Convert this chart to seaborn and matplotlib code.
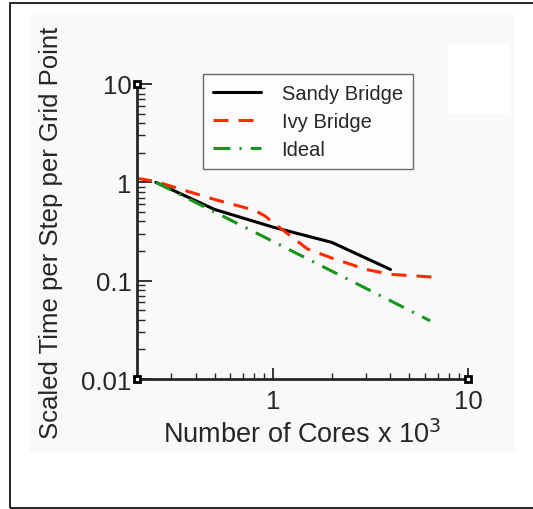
import pandas as pd
import seaborn as sns
import matplotlib.pyplot as plt
from matplotlib.patches import Rectangle
from matplotlib.ticker import LogLocator, NullFormatter, FixedLocator, FixedFormatter

# Data (cores in thousands, scaled time)
sandy_cores = [0.25, 0.5, 1.0, 2.0, 4.0]
sandy_time = [1.0, 0.53, 0.35, 0.245, 0.13]

ivy_cores = [0.2, 0.25, 0.35, 0.5, 0.7, 0.8, 0.9, 1.0, 1.5, 2.0, 3.0, 4.0, 6.5]
ivy_time = [1.1, 1.02, 0.83, 0.67, 0.56, 0.52, 0.46, 0.39, 0.21, 0.17, 0.13, 0.116, 0.109]

ideal_cores = [0.25, 0.5, 1.0, 2.0, 4.0, 6.4]
ideal_time = [1.0, 0.5, 0.25, 0.125, 0.0625, 0.039]

y_ticks = [0.01, 0.1, 1, 10]
y_labels = ['0.01', '0.1', '1', '10']
x_ticks = [1, 10]
x_labels = ['1', '10']

sns.set_style('ticks')
plt.rcParams['font.family'] = ['Liberation Sans', 'DejaVu Sans']

fig = plt.figure(figsize=(5.33, 5.10), dpi=100)

# light panel and outer frame like the original export
fig.patches.append(Rectangle((30 / 533, 1 - 453 / 510), 485 / 533, 437 / 510,
                             transform=fig.transFigure, facecolor='#f9f9f9',
                             edgecolor='none', zorder=-2))
fig.patches.append(Rectangle((448 / 533, 1 - 115 / 510), 62 / 533, 70 / 510,
                             transform=fig.transFigure, facecolor='white',
                             edgecolor='none', zorder=-2))
fig.patches.append(Rectangle((10 / 533, 1 - 509 / 510), 530 / 533, 505 / 510,
                             transform=fig.transFigure, facecolor='none',
                             edgecolor='black', lw=1.2, zorder=-2))

ax = fig.add_axes([137 / 533, 1 - 380 / 510, 331 / 533, 295 / 510])
ax.set_zorder(2)
ax.set_facecolor('none')

sns.lineplot(x=sandy_cores, y=sandy_time, ax=ax, color='black', lw=2.2,
             label='Sandy Bridge', estimator=None, sort=False)
sns.lineplot(x=ivy_cores, y=ivy_time, ax=ax, color='#ff2a00', lw=2.2,
             label='Ivy Bridge', estimator=None, sort=False,
             linestyle=(0, (4.9, 3.3)))
sns.lineplot(x=ideal_cores, y=ideal_time, ax=ax, color='#16961a', lw=2.2,
             label='Ideal', estimator=None, sort=False,
             linestyle=(0, (5.5, 3.0, 0.7, 3.0)))

ax.set_xscale('log')
ax.set_yscale('log')
ax.set_xlim(0.2, 10)
ax.set_ylim(0.01, 10)

ax.yaxis.set_major_locator(FixedLocator(y_ticks))
ax.yaxis.set_major_formatter(FixedFormatter(y_labels))
ax.xaxis.set_major_locator(FixedLocator(x_ticks))
ax.xaxis.set_major_formatter(FixedFormatter(x_labels))
ax.xaxis.set_minor_locator(LogLocator(base=10, subs=range(2, 10)))
ax.yaxis.set_minor_locator(LogLocator(base=10, subs=range(2, 10)))
ax.xaxis.set_minor_formatter(NullFormatter())
ax.yaxis.set_minor_formatter(NullFormatter())

for side in ['top', 'right']:
    ax.spines[side].set_visible(False)
for side in ['left', 'bottom']:
    ax.spines[side].set_linewidth(2.0)

ax.tick_params(axis='y', which='major', direction='in', length=11, width=1.3,
               labelsize=18.5, pad=4)
ax.tick_params(axis='y', which='minor', direction='in', length=6, width=1.0)
ax.tick_params(axis='x', which='major', direction='in', length=8, width=1.3,
               labelsize=18.5, pad=7)
ax.tick_params(axis='x', which='minor', direction='in', length=4.5, width=1.0)

# small square markers at the axis ends
ax.plot([0, 0, 1], [1, 0, 0], 's', transform=ax.transAxes, ms=5, mfc='white',
        mec='black', mew=2, clip_on=False, zorder=5)

ax.set_xlabel('Number of Cores x 10$^3$', fontsize=19.5, labelpad=5)
ax.set_ylabel('Scaled Time per Step per Grid Point', fontsize=18.5, labelpad=13)

leg = ax.legend(loc='upper left', bbox_to_anchor=(66 / 331, 1 + 10 / 295),
                fontsize=14.5, frameon=True, fancybox=False, edgecolor='#444444',
                handlelength=2.4, handletextpad=1.0, borderpad=0.5,
                labelspacing=0.45, borderaxespad=0)
leg.get_frame().set_linewidth(1.0)

fig.savefig('out.png', dpi=100)
